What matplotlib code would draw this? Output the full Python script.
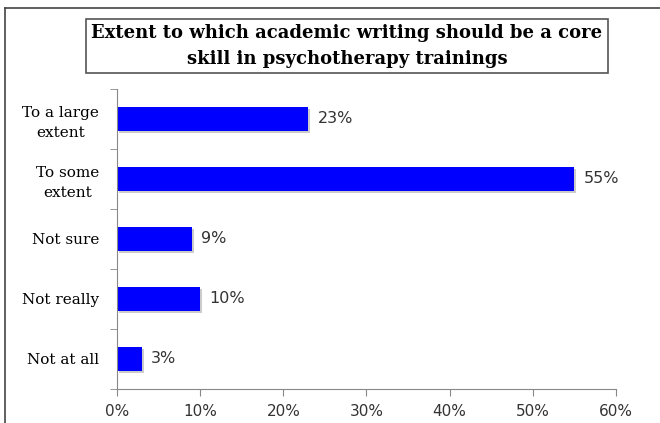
import matplotlib
matplotlib.use("Agg")
import matplotlib.pyplot as plt
import matplotlib.patheffects as pe
from matplotlib.lines import Line2D
from matplotlib.ticker import PercentFormatter

categories = ["To a large\nextent", "To some\nextent", "Not sure", "Not really", "Not at all"]
values = [23, 55, 9, 10, 3]
xticks = [0, 10, 20, 30, 40, 50, 60]

fig = plt.figure(figsize=(6.6, 4.23), dpi=100)
ax = fig.add_axes([0.1773, 0.0804, 0.7560, 0.7092])

y = list(range(len(categories)))[::-1]
bars = ax.barh(y, values, height=0.4, color="#0000ff", zorder=2)
for b in bars:
    b.set_path_effects([pe.SimplePatchShadow(offset=(1.5, -1.5), shadow_rgbFace="#999999", alpha=0.5),
                        pe.Normal()])

for yi, v in zip(y, values):
    ax.text(v + 1.1, yi, f"{v}%", va="center", ha="left",
            fontsize=11.5, family="DejaVu Sans", color="#333333")

ax.set_xlim(0, 60)
ax.set_ylim(-0.5, len(categories) - 0.5)
ax.set_xticks(xticks)
ax.xaxis.set_major_formatter(PercentFormatter(decimals=0))
ax.set_yticks(y)
ax.set_yticklabels(categories, family="DejaVu Serif", fontsize=11,
                   ha="right", multialignment="center", linespacing=1.5)
ax.tick_params(axis="y", length=0, pad=13)
ax.set_yticks([i - 0.5 for i in range(len(categories) + 1)], minor=True)
ax.tick_params(axis="y", which="minor", length=5, color="#888888")
ax.tick_params(axis="x", length=5, color="#888888", labelsize=11,
               labelcolor="#333333", pad=6)
for lab in ax.get_xticklabels():
    lab.set_family("DejaVu Sans")

for s in ["top", "right"]:
    ax.spines[s].set_visible(False)
ax.spines["left"].set_color("#888888")
ax.spines["bottom"].set_color("#888888")

# outer chart frame (top and left edges)
fig.add_artist(Line2D([5 / 660, 5 / 660], [0, 1 - 8 / 423], color="#444444", lw=1.2))
fig.add_artist(Line2D([5 / 660, 1], [1 - 8 / 423, 1 - 8 / 423], color="#444444", lw=1.2))

fig.text(347 / 660, 1 - 46 / 423,
         "Extent to which academic writing should be a core\nskill in psychotherapy trainings",
         ha="center", va="center", fontsize=13, fontweight="bold",
         family="DejaVu Serif", linespacing=1.5,
         bbox=dict(boxstyle="square,pad=0.28", fc="white", ec="#555555", lw=1.2))

fig.savefig("out.png", dpi=100)
